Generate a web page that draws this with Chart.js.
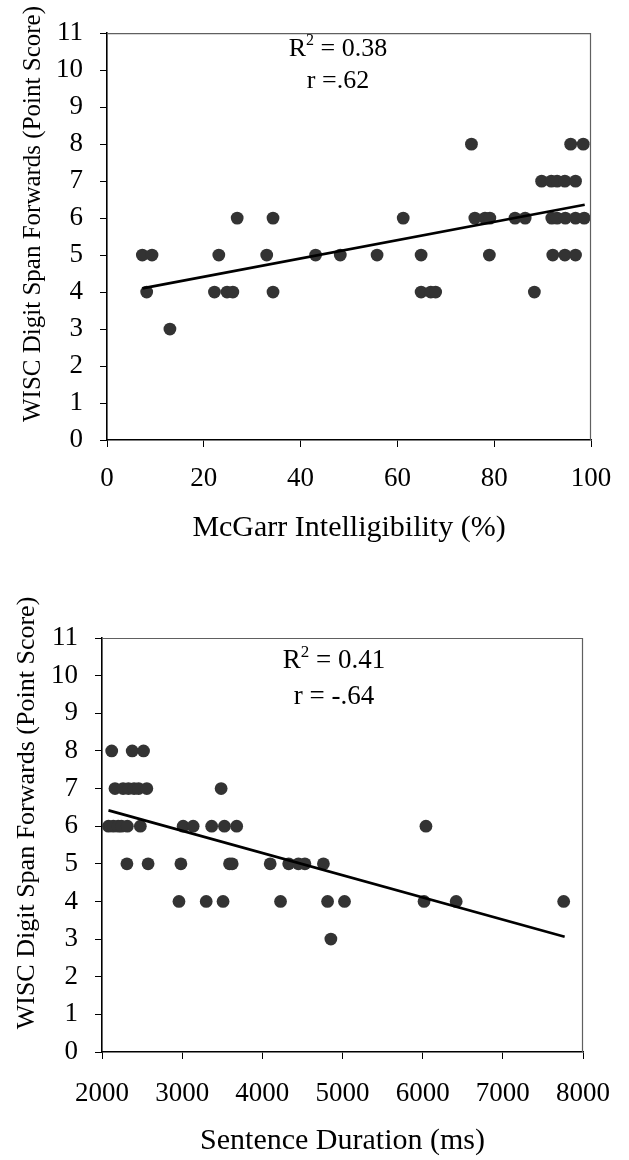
<!DOCTYPE html>
<html><head><meta charset="utf-8">
<script src="https://cdn.jsdelivr.net/npm/chart.js@4.4.0/dist/chart.umd.min.js"></script>
<style>
html,body{margin:0;padding:0;background:#fff;width:629px;height:1160px;overflow:hidden;}
.wrap{position:absolute;left:0;width:629px;height:580px;}
</style></head><body>
<div class="wrap" style="top:0"><canvas id="c1"></canvas></div>
<div class="wrap" style="top:580px"><canvas id="c2"></canvas></div>
<script>
// ---- Chart 1: McGarr Intelligibility vs WISC Digit Span ----
const mcgarrX = [13,
  8.2, 22.2, 24.8, 26.0, 34.3, 64.9, 66.9, 67.9, 88.3,
  7.3, 9.3, 23.1, 33.0, 43.1, 48.2, 55.8, 64.9, 79.0, 92.1, 94.6, 96.8,
  26.9, 34.3, 61.2, 76.0, 78.1, 79.1, 84.3, 86.4, 91.9, 93.0, 94.7, 96.8, 98.6,
  89.8, 91.8, 93.0, 94.6, 96.8,
  75.3, 95.8, 98.4];
const mcgarrY = [3,
  4, 4, 4, 4, 4, 4, 4, 4, 4,
  5, 5, 5, 5, 5, 5, 5, 5, 5, 5, 5, 5,
  6, 6, 6, 6, 6, 6, 6, 6, 6, 6, 6, 6, 6,
  7, 7, 7, 7, 7,
  8, 8, 8];
const mcgarrTrendX = [7.3, 98.7];
const mcgarrTrendY = [4.10, 6.36];
const mcgarrTicksX = [0, 20, 40, 60, 80, 100];

// ---- Chart 2: Sentence Duration vs WISC Digit Span ----
const durationX = [2121, 2377, 2518,
  2162, 2263, 2330, 2400, 2457, 2559, 3486,
  2081, 2141, 2202, 2243, 2316, 2478, 3012, 3137, 3368, 3527, 3680, 6041,
  2311, 2575, 2984, 3591, 3624, 4098, 4329, 4450, 4531, 4762,
  2960, 3300, 3510, 4227, 4814, 5025, 6017, 6418, 7759,
  4855];
const durationY = [8, 8, 8,
  7, 7, 7, 7, 7, 7, 7,
  6, 6, 6, 6, 6, 6, 6, 6, 6, 6, 6, 6,
  5, 5, 5, 5, 5, 5, 5, 5, 5, 5,
  4, 4, 4, 4, 4, 4, 4, 4, 4,
  3];
const durationTrendX = [2081, 7771];
const durationTrendY = [6.42, 3.06];
const durationTicksX = [2000, 3000, 4000, 5000, 6000, 7000, 8000];

const yTicks = [0,1,2,3,4,5,6,7,8,9,10,11];
const yTitle = 'WISC Digit Span Forwards (Point Score)';

const FONT = '"Liberation Serif", "Times New Roman", serif';

function pairs(xs, ys) { return xs.map((x, i) => ({x: x, y: ys[i]})); }

function notesPlugin(cfg) {
  return {
    id: 'notes',
    afterDraw(chart) {
      const ctx = chart.ctx, a = chart.chartArea;
      ctx.save();
      // top & right frame
      ctx.strokeStyle = '#606060';
      ctx.lineWidth = 1.2;
      ctx.beginPath();
      ctx.moveTo(a.left, a.top + 0.5);
      ctx.lineTo(a.right - 0.5, a.top + 0.5);
      ctx.lineTo(a.right - 0.5, a.bottom);
      ctx.stroke();
      // y axis title (rotated)
      ctx.fillStyle = '#000';
      ctx.save();
      ctx.translate(cfg.yTitleX, cfg.yTitleY);
      ctx.rotate(-Math.PI / 2);
      ctx.font = cfg.yTitleSize + 'px ' + FONT;
      ctx.textAlign = 'center';
      ctx.textBaseline = 'middle';
      ctx.fillText(yTitle, 0, 0);
      ctx.restore();
      // annotation text
      ctx.textBaseline = 'alphabetic';
      const big = cfg.size + 'px ' + FONT;
      const small = Math.round(cfg.size * 0.62) + 'px ' + FONT;
      ctx.font = big;
      const wR = ctx.measureText('R').width;
      const wRest = ctx.measureText(' = ' + cfg.r2).width;
      ctx.font = small;
      const w2 = ctx.measureText('2').width;
      const total = wR + w2 + wRest;
      let x = cfg.cx - total / 2;
      ctx.textAlign = 'left';
      ctx.font = big;
      ctx.fillText('R', x, cfg.y1);
      x += wR;
      ctx.font = small;
      ctx.fillText('2', x, cfg.y1 - cfg.size * 0.42);
      x += w2;
      ctx.font = big;
      ctx.fillText(' = ' + cfg.r2, x, cfg.y1);
      ctx.textAlign = 'center';
      ctx.fillText(cfg.rLine, cfg.cx, cfg.y2);
      ctx.restore();
    }
  };
}

function makeChart(id, o) {
  return new Chart(document.getElementById(id), {
    type: 'scatter',
    data: {
      datasets: [
        {
          type: 'line',
          data: pairs(o.trendX, o.trendY),
          borderColor: '#000',
          borderWidth: 2.6,
          pointRadius: 0,
          showLine: true,
          fill: false,
          order: 0
        },
        {
          data: pairs(o.xs, o.ys),
          backgroundColor: '#333333',
          borderWidth: 0,
          pointRadius: 6.4,
          pointHoverRadius: 6.4,
          order: 1
        }
      ]
    },
    options: {
      responsive: true,
      maintainAspectRatio: false,
      animation: false,
      devicePixelRatio: 1,
      events: [],
      layout: { padding: { top: o.padTop, right: o.padRight, left: 0, bottom: 0 } },
      plugins: { legend: { display: false }, tooltip: { enabled: false } },
      scales: {
        x: {
          type: 'linear',
          min: o.xTicks[0],
          max: o.xTicks[o.xTicks.length - 1],
          afterBuildTicks(s) { s.ticks = o.xTicks.map(v => ({value: v})); },
          afterFit(s) { s.height = o.xHeight; },
          grid: { drawOnChartArea: false, drawTicks: true, tickLength: 7, color: '#000', tickColor: '#000', lineWidth: 1 },
          border: { color: '#000', width: 1.6 },
          ticks: { color: '#000', font: { family: FONT, size: o.tickSize }, padding: o.xTickPad, maxRotation: 0, autoSkip: false,
                   callback: v => String(v) },
          title: { display: true, text: o.xTitle, color: '#000', font: { family: FONT, size: o.xTitleSize }, padding: { top: 0, bottom: o.xTitlePad } }
        },
        y: {
          type: 'linear',
          min: 0,
          max: 11,
          afterBuildTicks(s) { s.ticks = yTicks.map(v => ({value: v})); },
          afterFit(s) { s.width = o.yWidth; },
          grid: { drawOnChartArea: false, drawTicks: true, tickLength: 7, color: '#000', tickColor: '#000', lineWidth: 1 },
          border: { color: '#000', width: 1.6 },
          ticks: { color: '#000', font: { family: FONT, size: o.tickSize }, padding: o.yTickPad, autoSkip: false,
                   callback: v => String(v) },
          title: { display: false }
        }
      }
    },
    plugins: [notesPlugin(o.notes)]
  });
}

makeChart('c1', {
  xs: mcgarrX, ys: mcgarrY, trendX: mcgarrTrendX, trendY: mcgarrTrendY, xTicks: mcgarrTicksX,
  xTitle: 'McGarr Intelligibility (%)',
  padTop: 26, padRight: 38, yWidth: 107, xHeight: 140,
  tickSize: 27, xTickPad: 16, yTickPad: 17,
  xTitleSize: 30, xTitlePad: 34,
  notes: { cx: 338, y1: 56, y2: 88, size: 26, r2: '0.38', rLine: 'r =.62',
           yTitleX: 33, yTitleY: 214, yTitleSize: 25 }
});

makeChart('c2', {
  xs: durationX, ys: durationY, trendX: durationTrendX, trendY: durationTrendY, xTicks: durationTicksX,
  xTitle: 'Sentence Duration (ms)',
  padTop: 58, padRight: 33, yWidth: 102, xHeight: 108,
  tickSize: 27, xTickPad: 19, yTickPad: 17,
  xTitleSize: 30, xTitlePad: 1,
  notes: { cx: 334, y1: 88, y2: 124, size: 27, r2: '0.41', rLine: 'r = -.64',
           yTitleX: 27, yTitleY: 233, yTitleSize: 26 }
});
</script>
</body></html>
